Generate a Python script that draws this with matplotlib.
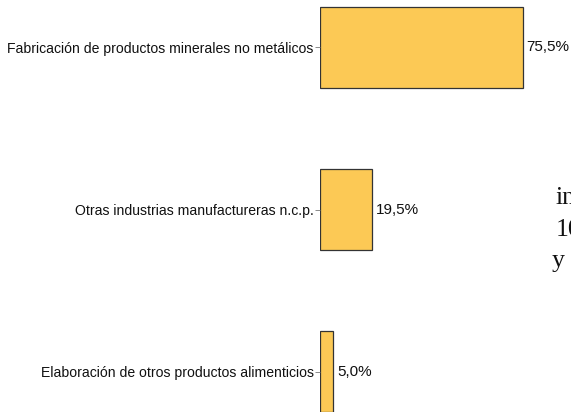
import matplotlib
matplotlib.use("Agg")
import matplotlib.pyplot as plt

categories = [
    "Fabricación de productos minerales no metálicos",
    "Otras industrias manufactureras n.c.p.",
    "Elaboración de otros productos alimenticios",
]
values = [75.5, 19.5, 5.0]
value_labels = ["75,5%", "19,5%", "5,0%"]

plt.rcParams['font.family'] = ['Liberation Sans', 'DejaVu Sans']

W, H = 571, 412
fig = plt.figure(figsize=(W / 100, H / 100), dpi=100)

left_px, right_px = 320, 571
top_px, bottom_px = -34, 453
ax = fig.add_axes([left_px / W, (H - bottom_px) / H,
                   (right_px - left_px) / W, (bottom_px - top_px) / H])

ypos = list(range(len(categories)))
bars = ax.barh(ypos, values, height=0.5, color="#FCC955",
               edgecolor="#333333", linewidth=0.9)
ax.set_xlim(0, (right_px - left_px) / 2.69)
ax.set_ylim(2.5, -0.5)
ax.set_yticks(ypos)
ax.set_yticklabels(categories, fontsize=10.05, color="#111111")
ax.tick_params(axis="y", length=3.5, width=0.6, color="#777777", pad=1)
ax.set_xticks([])
for s in ax.spines.values():
    s.set_visible(False)

for b, lab in zip(bars, value_labels):
    ax.annotate(lab, xy=(b.get_width(), b.get_y() + b.get_height() / 2),
                xytext=(2.5, 0), textcoords="offset points",
                ha="left", va="center", fontsize=11, color="#111111")

# fragments of neighbouring text clipped at the right edge
serif = ['Liberation Serif', 'DejaVu Serif']
fig.text(556 / W, 1 - 204 / H, "in", family=serif, fontsize=18.5,
         ha="left", va="baseline", color="#111111")
fig.text(556 / W, 1 - 236 / H, "10", family=serif, fontsize=18.5,
         ha="left", va="baseline", color="#111111")
fig.text(552 / W, 1 - 267 / H, "y", family=serif, fontsize=18.5,
         ha="left", va="baseline", color="#111111")

fig.savefig("out.png", dpi=100)
